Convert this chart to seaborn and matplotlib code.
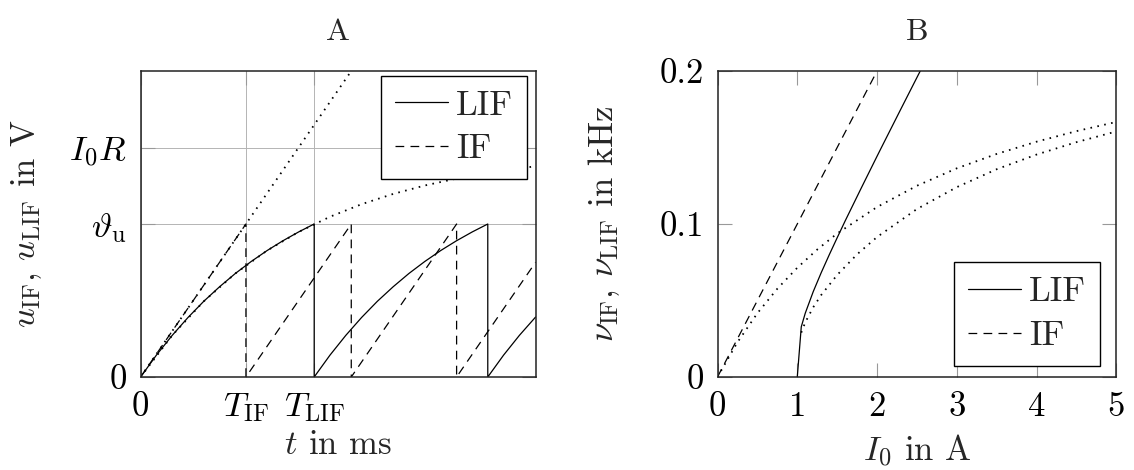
import matplotlib
matplotlib.use("Agg")
import matplotlib.pyplot as plt
import seaborn as sns

# Panel A: membrane potential traces (time in units of T_IF)
lif_t = [0, 0.15, 0.3, 0.45, 0.6, 0.75, 0.9, 1.05, 1.2, 1.35, 1.5, 1.648,
         1.648, 1.798, 1.948, 2.098, 2.248, 2.398, 2.548, 2.698, 2.848, 2.998, 3.148, 3.296,
         3.296, 3.446, 3.596, 3.75]
lif_u = [0, 0.143, 0.272, 0.389, 0.495, 0.590, 0.677, 0.755, 0.826, 0.890, 0.948, 1.0,
         0, 0.143, 0.272, 0.389, 0.495, 0.590, 0.677, 0.755, 0.826, 0.890, 0.948, 1.0,
         0, 0.143, 0.272, 0.392]
if_t = [0, 1, 1, 2, 2, 3, 3, 3.75]
if_u = [0, 1, 0, 1, 0, 1, 0, 0.75]
free_if_t = [0, 2]
free_if_u = [0, 2]
free_lif_t = [0, 0.3, 0.6, 0.9, 1.2, 1.5, 1.8, 2.1, 2.4, 2.7, 3.0, 3.3, 3.6, 3.75]
free_lif_u = [0, 0.272, 0.495, 0.677, 0.826, 0.948, 1.048, 1.130, 1.197, 1.252, 1.297, 1.334, 1.364, 1.377]
a_xticks = [0, 1, 1.648]
a_xlabels = ['0', r'$T_{\mathrm{IF}}$', r'$T_{\mathrm{LIF}}$']
a_yticks = [0, 1, 1.5]
a_ylabels = ['0', r'$\vartheta_{\mathrm{u}}$', r'$I_0R$']

# Panel B: firing rate vs input current
rate_if_i = [0, 2]
rate_if_nu = [0, 0.2]
rate_lif_i = [1.0, 1.05, 1.1, 1.2, 1.3, 1.4, 1.5, 1.6, 1.8, 2.0, 2.05, 2.3, 2.55, 2.6]
rate_lif_nu = [0, 0.0328, 0.0417, 0.0558, 0.0682, 0.0798, 0.0910, 0.1020, 0.1233, 0.1443,
               0.1495, 0.1753, 0.2009, 0.206]
ref_if_i = [0, 0.25, 0.5, 0.75, 1, 1.25, 1.5, 2, 2.5, 3, 3.5, 4, 4.5, 5]
ref_if_nu = [0, 0.0227, 0.0417, 0.0577, 0.0714, 0.0833, 0.0938, 0.1111, 0.125, 0.1364,
             0.1458, 0.1538, 0.1607, 0.1667]
ref_lif_i = [1.05, 1.1, 1.2, 1.3, 1.5, 1.75, 2, 2.5, 3, 3.5, 4, 4.5, 5]
ref_lif_nu = [0.0290, 0.0357, 0.0456, 0.0536, 0.0667, 0.0802, 0.0915, 0.1098, 0.1241,
              0.1358, 0.1454, 0.1535, 0.1605]
b_xticks = [0, 1, 2, 3, 4, 5]
b_yticks = [0, 0.1, 0.2]
b_ylabels = ['0', '0.1', '0.2']

sns.set_theme(style="ticks")
plt.rcParams['font.family'] = ['cmr10', 'DejaVu Serif']
plt.rcParams['mathtext.fontset'] = 'cm'
plt.rcParams['axes.formatter.use_mathtext'] = True
plt.rcParams['axes.unicode_minus'] = False

FS = 25
TFS = 23
lw = 0.9
dlw = 1.3
dash = (0, (7, 5))
dot = (0, (0.9, 3.0))

fig, (ax1, ax2) = plt.subplots(1, 2, figsize=(11.34, 4.70), dpi=100)
ax1.set_position([140.6 / 1134, 1 - 377 / 470, 395 / 1134, 306 / 470])
ax2.set_position([717.5 / 1134, 1 - 377 / 470, 398.9 / 1134, 306 / 470])

leg_kw = dict(borderaxespad=0, fontsize=FS, fancybox=False, edgecolor='black',
              framealpha=1, handlelength=1.55, handletextpad=0.22,
              labelspacing=0.35, borderpad=0.4)

# ---- A ----
sns.lineplot(x=free_if_t, y=free_if_u, ax=ax1, color='black', lw=dlw, linestyle=dot,
             sort=False, estimator=None)
sns.lineplot(x=free_lif_t, y=free_lif_u, ax=ax1, color='black', lw=dlw, linestyle=dot,
             sort=False, estimator=None)
sns.lineplot(x=lif_t, y=lif_u, ax=ax1, color='black', lw=lw, sort=False, estimator=None,
             label='LIF')
sns.lineplot(x=if_t, y=if_u, ax=ax1, color='black', lw=lw, linestyle=dash, sort=False,
             estimator=None, label='IF')
ax1.set_xlim(0, 3.75)
ax1.set_ylim(0, 2)
ax1.set_xticks(a_xticks)
ax1.set_xticklabels(a_xlabels)
ax1.set_yticks(a_yticks)
ax1.set_yticklabels(a_ylabels)
ax1.grid(True, color='#b4b4b4', lw=0.7)
ax1.set_xlabel(r'$t$ in ms', fontsize=FS)
ax1.set_ylabel(r'$u_{\mathrm{IF}}$, $u_{\mathrm{LIF}}$ in V', fontsize=FS)
ax1.xaxis.set_label_coords(0.5, -0.17)
ax1.yaxis.set_label_coords(-0.245, 0.5)
ax1.set_title('A', fontsize=TFS, pad=22)
ax1.legend(loc='upper right', bbox_to_anchor=(527 / 1134, 1 - 76 / 470),
           bbox_transform=fig.transFigure, **leg_kw)

# ---- B ----
sns.lineplot(x=ref_if_i, y=ref_if_nu, ax=ax2, color='black', lw=dlw, linestyle=dot,
             sort=False, estimator=None)
sns.lineplot(x=ref_lif_i, y=ref_lif_nu, ax=ax2, color='black', lw=dlw, linestyle=dot,
             sort=False, estimator=None)
sns.lineplot(x=rate_lif_i, y=rate_lif_nu, ax=ax2, color='black', lw=lw, sort=False,
             estimator=None, label='LIF')
sns.lineplot(x=rate_if_i, y=rate_if_nu, ax=ax2, color='black', lw=lw, linestyle=dash,
             sort=False, estimator=None, label='IF')
ax2.set_xlim(0, 5)
ax2.set_ylim(0, 0.2)
ax2.set_xticks(b_xticks)
ax2.set_xticklabels([str(v) for v in b_xticks])
ax2.set_yticks(b_yticks)
ax2.set_yticklabels(b_ylabels)
ax2.set_xlabel(r'$I_0$ in A', fontsize=FS)
ax2.set_ylabel(r'$\nu_{\mathrm{IF}}$, $\nu_{\mathrm{LIF}}$ in kHz', fontsize=FS)
ax2.xaxis.set_label_coords(0.5, -0.18)
ax2.yaxis.set_label_coords(-0.24, 0.5)
ax2.set_title('B', fontsize=TFS, pad=22)
ax2.legend(loc='lower right', bbox_to_anchor=(1100 / 1134, 1 - 365.7 / 470),
           bbox_transform=fig.transFigure, **leg_kw)

for ax in (ax1, ax2):
    ax.tick_params(direction='in', length=10, width=0.8, color='#999999',
                   labelcolor='black', labelsize=FS, pad=10, top=True, right=True)
    for sp in ax.spines.values():
        sp.set_color('#222222')
        sp.set_linewidth(1.1)
        sp.set_visible(True)

fig.savefig('out.png', dpi=100)
